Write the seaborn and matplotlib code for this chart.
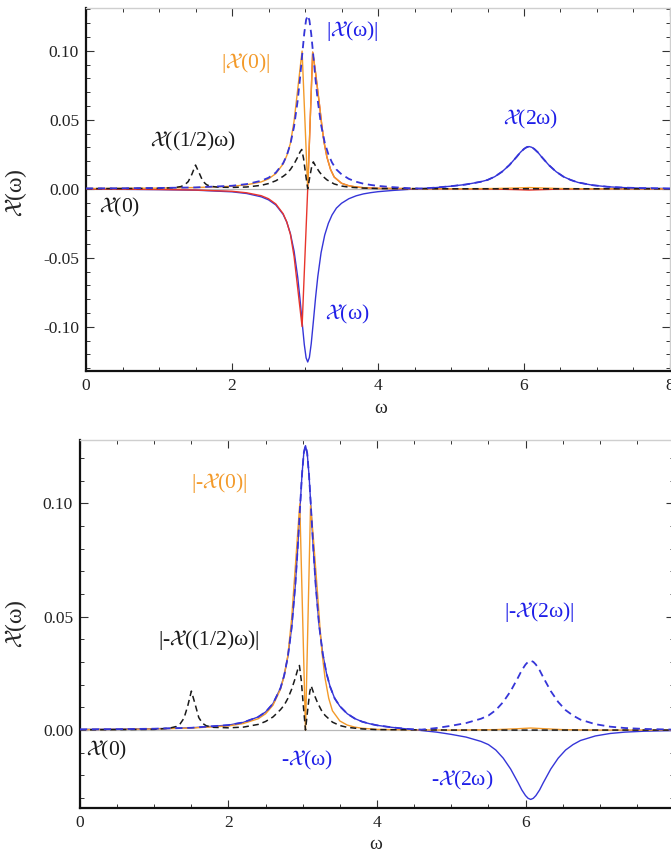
import matplotlib
matplotlib.use("Agg")
import matplotlib.pyplot as plt
from matplotlib.ticker import MultipleLocator, FormatStrFormatter
import numpy as np
import seaborn as sns

# ---- susceptibility curves (omega, value) ----
omega_chi = [0.0, 0.5, 1.0, 1.5, 2.0, 2.2, 2.4, 2.5, 2.6, 2.7, 2.75, 2.8, 2.85, 2.9, 2.93,
             2.96, 2.99, 3.015, 3.037, 3.06, 3.085, 3.115, 3.145, 3.175, 3.22, 3.27, 3.32,
             3.37, 3.43, 3.5, 3.6, 3.7, 3.8, 3.9, 4.0, 4.2, 4.4, 4.6, 4.8, 5.0, 5.2, 5.4, 5.5,
             5.6, 5.7, 5.8, 5.9, 5.95, 6.0, 6.035, 6.07, 6.105, 6.14, 6.19, 6.24, 6.34, 6.44,
             6.54, 6.64, 6.74, 6.94, 7.14, 7.34, 7.6, 8.0]
chi_w = [-0.0003, -0.0004, -0.0006, -0.0010, -0.0022, -0.0034, -0.0058, -0.0080, -0.0117,
         -0.0185, -0.0241, -0.0325, -0.0451, -0.0641, -0.0792, -0.0963, -0.1128, -0.1225,
         -0.1255, -0.1222, -0.1123, -0.0958, -0.0787, -0.0637, -0.0463, -0.0335, -0.0250,
         -0.0190, -0.0140, -0.0105, -0.0072, -0.0051, -0.0037, -0.0028, -0.0021, -0.0012,
         -0.0005, 0.0002, 0.0009, 0.0019, 0.0031, 0.0050, 0.0064, 0.0088, 0.0124, 0.0172,
         0.0232, 0.0264, 0.0289, 0.0301, 0.0306, 0.0301, 0.0289, 0.0264, 0.0232, 0.0172,
         0.0124, 0.0088, 0.0064, 0.0046, 0.0026, 0.0015, 0.0009, 0.0005, 0.0002]

omega_0 = [0.0, 0.5, 1.0, 1.5, 2.0, 2.2, 2.4, 2.5, 2.6, 2.7, 2.75, 2.8, 2.85, 2.9, 2.93,
           2.96, 3.037, 3.105, 3.14, 3.17, 3.2, 3.23, 3.26, 3.3, 3.35, 3.4, 3.5, 3.6, 3.7,
           3.8, 4.0, 4.5, 5.0, 5.6, 5.9, 6.07, 6.25, 6.5, 7.0, 8.0]
chi_0 = [-0.0002, -0.0003, -0.0005, -0.0009, -0.0018, -0.0029, -0.0050, -0.0072, -0.0110,
         -0.0180, -0.0240, -0.0330, -0.0490, -0.0720, -0.0860, -0.0998, 0.0, 0.0990,
         0.0860, 0.0730, 0.0600, 0.0460, 0.0340, 0.0230, 0.0140, 0.0085, 0.0040, 0.0022,
         0.0013, 0.0008, 0.0003, 0.0001, 0.0, -0.0002, -0.0006, -0.0009, -0.0006, -0.0002,
         0.0, 0.0]

omega_half = [0.0, 0.5, 1.0, 1.2, 1.3, 1.35, 1.4, 1.45, 1.5, 1.55, 1.6, 1.65, 1.7, 1.8, 2.0,
              2.2, 2.4, 2.5, 2.6, 2.7, 2.75, 2.8, 2.85, 2.9, 2.93, 2.955, 2.98, 3.01, 3.037,
              3.07, 3.095, 3.114, 3.15, 3.2, 3.25, 3.3, 3.4, 3.5, 3.6, 3.8, 4.0, 4.5, 5.0,
              6.0, 7.0, 8.0]
chi_half = [0.0001, 0.0002, 0.0003, 0.0008, 0.0016, 0.0028, 0.0052, 0.0105, 0.0172, 0.0115,
            0.0055, 0.0030, 0.0019, 0.0012, 0.0010, 0.0013, 0.0025, 0.0038, 0.0058, 0.0090,
            0.0110, 0.0140, 0.0180, 0.0230, 0.0265, 0.0285, 0.0220, 0.0100, 0.0, 0.0100,
            0.0170, 0.0195, 0.0160, 0.0120, 0.0088, 0.0065, 0.0035, 0.0020, 0.0012, 0.0005,
            0.0002, 0.0001, 0.0, 0.0, 0.0, 0.0]

x_ticks = [0, 2, 4, 6, 8]
x_labels_top = ["0", "2", "4", "6", "8"]
x_labels_bottom = ["0", "2", "4", "6", ""]
y_ticks_top = [-0.10, -0.05, 0.00, 0.05, 0.10]
y_ticks_bottom = [0.00, 0.05, 0.10]

# ---- style ----
sns.set_style("ticks")
plt.rcParams["font.family"] = ["Liberation Serif", "DejaVu Serif"]
plt.rcParams["mathtext.fontset"] = "stix"
plt.rcParams["axes.unicode_minus"] = False

BLUE = "#3535d8"
BLUE_TXT = "#1f1fe8"
ORANGE = "#f39a2a"
RED = "#e8352c"
BLACK = "#1a1a1a"
X = r"$\mathcal{X}$"

fig = plt.figure(figsize=(6.71, 8.52), dpi=100)
ax1 = fig.add_axes([0.1282, 0.5646, 0.8703, 0.4260])
ax2 = fig.add_axes([0.1192, 0.0516, 0.8853, 0.4320])

chi_w_arr = np.array(chi_w)
chi_0_arr = np.array(chi_0)
chi_half_arr = np.array(chi_half)
dash = (0, (4.0, 2.6))


def line(ax, x, y, color, ls="-", lw=1.0, z=3):
    sns.lineplot(x=x, y=y, ax=ax, color=color, linestyle=ls, linewidth=lw,
                 estimator=None, sort=False, zorder=z)


# top panel: chi and its modulus
line(ax1, omega_chi, chi_w_arr, BLUE, z=3)
line(ax1, omega_0, chi_0_arr, RED, z=4)
line(ax1, omega_0, np.abs(chi_0_arr), ORANGE, z=5)
line(ax1, omega_half, chi_half_arr, BLACK, ls=dash, lw=1.1, z=6)
line(ax1, omega_chi, np.abs(chi_w_arr), BLUE, ls=dash, lw=1.3, z=7)

# bottom panel: negated chi and its modulus
line(ax2, omega_chi, -chi_w_arr, BLUE, z=3)
line(ax2, omega_0, np.abs(chi_0_arr), ORANGE, z=4)
line(ax2, omega_half, chi_half_arr, BLACK, ls=dash, lw=1.1, z=5)
line(ax2, omega_chi, np.abs(chi_w_arr), BLUE, ls=dash, lw=1.3, z=6)

for ax, ylim, yt, xl in ((ax1, (-0.132, 0.131), y_ticks_top, x_labels_top),
                         (ax2, (-0.0344, 0.128), y_ticks_bottom, x_labels_bottom)):
    ax.axhline(0, color="#b8b8b8", lw=0.9, zorder=1)
    ax.set_xlim(0, 8)
    ax.set_ylim(*ylim)
    ax.set_xticks(x_ticks)
    ax.set_xticklabels(xl)
    ax.set_yticks(yt)
    ax.xaxis.set_minor_locator(MultipleLocator(0.5))
    ax.yaxis.set_minor_locator(MultipleLocator(0.01))
    ax.yaxis.set_major_formatter(FormatStrFormatter("%.2f"))
    ax.tick_params(which="both", direction="in", top=True, right=True,
                   labelsize=12.5, labelcolor="#222222", pad=5)
    ax.tick_params(which="major", length=6, width=0.8, color="#333333")
    ax.tick_params(which="minor", length=3, width=0.7, color="#333333")
    for t in ax.xaxis.get_major_ticks() + ax.xaxis.get_minor_ticks():
        t.tick2line.set_color("#c8c8c8")
    for t in ax.yaxis.get_major_ticks() + ax.yaxis.get_minor_ticks():
        t.tick2line.set_color("#c8c8c8")
    for side in ("left", "bottom"):
        ax.spines[side].set_color("#111111")
        ax.spines[side].set_linewidth(1.6)
    for side in ("top", "right"):
        ax.spines[side].set_color("#cfcfcf")
        ax.spines[side].set_linewidth(1.0)
    ax.set_xlabel("ω", fontsize=14)
    ax.set_ylabel(X + "(ω)", fontsize=17)

ax1.xaxis.set_label_coords(0.505, -0.08)
ax1.yaxis.set_label_coords(-0.098, 0.49)
ax2.xaxis.set_label_coords(0.498, -0.076)
ax2.yaxis.set_label_coords(-0.086, 0.50)

fs = 15.5
# top panel labels
ax1.text(3.64, 0.114, "|" + X + "(ω)|", color=BLUE_TXT, fontsize=fs, ha="center", va="center")
ax1.text(2.19, 0.091, "|" + X + "(0)|", color=ORANGE, fontsize=fs, ha="center", va="center")
ax1.text(1.47, 0.034, X + "((1/2)ω)", color=BLACK, fontsize=fs, ha="center", va="center")
ax1.text(6.09, 0.050, X + "(2ω)", color=BLUE_TXT, fontsize=fs, ha="center", va="center")
ax1.text(3.58, -0.0913, X + "(ω)", color=BLUE_TXT, fontsize=fs, ha="center", va="center")
ax1.text(0.46, -0.0138, X + "(0)", color=BLACK, fontsize=fs, ha="center", va="center")

# bottom panel labels
ax2.text(1.87, 0.109, "|-" + X + "(0)|", color=ORANGE, fontsize=fs, ha="center", va="center")
ax2.text(1.73, 0.0397, "|-" + X + "((1/2)ω)|", color=BLACK, fontsize=fs, ha="center", va="center")
ax2.text(6.18, 0.052, "|-" + X + "(2ω)|", color=BLUE_TXT, fontsize=fs, ha="center", va="center")
ax2.text(3.06, -0.0132, "-" + X + "(ω)", color=BLUE_TXT, fontsize=fs, ha="center", va="center")
ax2.text(5.15, -0.0221, "-" + X + "(2ω)", color=BLUE_TXT, fontsize=fs, ha="center", va="center")
ax2.text(0.36, -0.0088, X + "(0)", color=BLACK, fontsize=fs, ha="center", va="center")

fig.savefig("out.png", dpi=100)
